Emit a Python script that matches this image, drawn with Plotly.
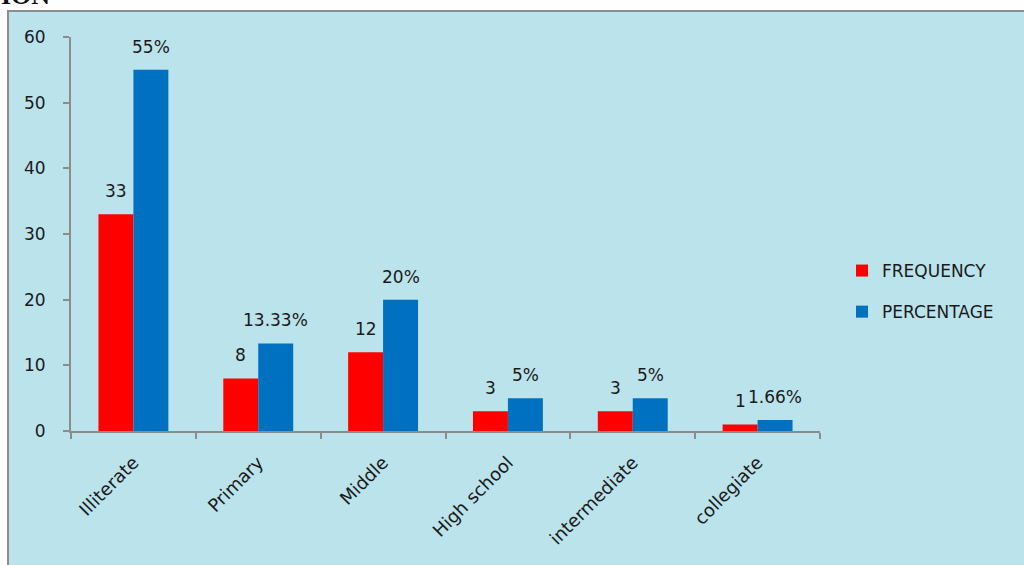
import plotly.graph_objects as go

categories = ["Illiterate", "Primary", "Middle", "High school", "intermediate", "collegiate"]
frequency = [33, 8, 12, 3, 3, 1]
percentage = [55, 13.33, 20, 5, 5, 1.66]
freq_labels = ["33", "8", "12", "3", "3", "1"]
pct_labels = ["55%", "13.33%", "20%", "5%", "5%", "1.66%"]
y_ticks = [0, 10, 20, 30, 40, 50, 60]

W, H = 1024, 565
L, R, T, B = 71, 204, 37, 134
pw, ph = W - L - R, H - T - B
bargap = 0.44
cat_w = pw / len(categories)
bar_w = cat_w * (1 - bargap) / 2

FONT = "DejaVu Sans, Verdana, sans-serif"
TXT = "#1a1a1a"

fig = go.Figure()
fig.add_trace(go.Bar(x=categories, y=frequency, name="FREQUENCY", marker_color="#ff0000",
                     marker_line_width=0, legendgroup="a"))
fig.add_trace(go.Bar(x=categories, y=percentage, name="PERCENTAGE", marker_color="#0070c0",
                     marker_line_width=0, legendgroup="b"))

annotations = []
for c, v, t in zip(categories, frequency, freq_labels):
    annotations.append(dict(x=c, y=v, text=t, showarrow=False, xshift=-bar_w / 2, yshift=11,
                            yanchor="bottom", font=dict(size=17, color=TXT, family=FONT)))
for c, v, t in zip(categories, percentage, pct_labels):
    annotations.append(dict(x=c, y=v, text=t, showarrow=False, xshift=bar_w / 2, yshift=11,
                            yanchor="bottom", font=dict(size=17, color=TXT, family=FONT)))

# "ION" heading fragment at top-left (cut off by the page edge, as in the source)
annotations.append(dict(xref="paper", yref="paper", x=-L / pw - 0.002, y=1 + (T - 12) / ph,
                        text="<b>ION</b>", showarrow=False, xanchor="left", yanchor="bottom",
                        font=dict(size=26, color="#111111", family="Liberation Serif, Times New Roman, serif")))

shapes = [
    # textured-blue chart background
    dict(type="rect", xref="paper", yref="paper",
         x0=(8 - L) / pw, x1=(W - L + 5) / pw, y0=-(B + 5) / ph, y1=1 + (T - 11) / ph,
         fillcolor="#bae3ec", line=dict(color="#8c8c8c", width=2), layer="below"),
]

fig.update_layout(
    width=W, height=H,
    margin=dict(l=L, r=R, t=T, b=B),
    paper_bgcolor="white",
    plot_bgcolor="rgba(0,0,0,0)",
    barmode="group",
    bargap=bargap,
    bargroupgap=0,
    font=dict(family=FONT, size=17, color=TXT),
    showlegend=True,
    legend=dict(x=(842 - L) / pw, xanchor="left", y=(431 - 253) / ph, yanchor="top",
                bgcolor="rgba(0,0,0,0)", font=dict(size=17, family=FONT, color=TXT),
                tracegroupgap=16, itemwidth=30),
    annotations=annotations,
    shapes=shapes,
    xaxis=dict(showline=True, linecolor="#8c8c8c", linewidth=2, ticks="outside",
               tickson="boundaries", ticklen=6, tickcolor="#8c8c8c", tickwidth=2,
               tickangle=-45, tickfont=dict(size=18, family=FONT, color=TXT),
               ticklabelstandoff=12, showgrid=False),
    yaxis=dict(range=[0, 60], tickvals=y_ticks, showline=True, linecolor="#8c8c8c",
               linewidth=2, ticks="outside", ticklen=6, tickcolor="#8c8c8c", tickwidth=2,
               ticklabelstandoff=14,
               showgrid=False, zeroline=False, tickfont=dict(size=17, family=FONT, color=TXT)),
)

fig.write_html("out.html")
